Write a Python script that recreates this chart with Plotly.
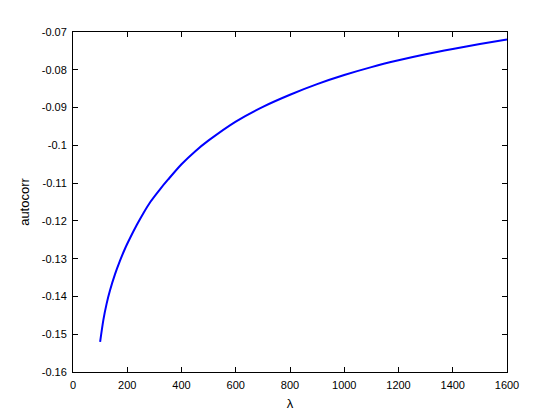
import plotly.graph_objects as go

lam = [100, 112, 124, 136, 155, 173, 192, 210, 235, 260, 285, 320, 350,
       400, 450, 500, 600, 700, 800, 900, 1000, 1100, 1200, 1300, 1400,
       1500, 1600]
autocorr = [-0.1520, -0.1462, -0.1419, -0.1385, -0.1341, -0.1306, -0.1273,
            -0.1246, -0.1211, -0.1179, -0.1150, -0.1117, -0.1091, -0.1050,
            -0.1016, -0.0987, -0.0937, -0.0898, -0.0866, -0.0838, -0.0814,
            -0.0793, -0.0775, -0.0759, -0.0745, -0.0732, -0.0720]
xticks = [0, 200, 400, 600, 800, 1000, 1200, 1400, 1600]
yticks = [-0.16, -0.15, -0.14, -0.13, -0.12, -0.11, -0.1, -0.09, -0.08, -0.07]
ytext = ["-0.16", "-0.15", "-0.14", "-0.13", "-0.12", "-0.11", "-0.1",
         "-0.09", "-0.08", "-0.07"]

fig = go.Figure(go.Scatter(x=lam, y=autocorr, mode="lines",
                           line=dict(color="#0000ff", width=2, shape="spline",
                                     smoothing=0.8)))

axis_common = dict(showline=True, linecolor="black", linewidth=1, mirror="ticks",
                   ticks="inside", ticklen=5, tickcolor="black", showgrid=False,
                   zeroline=False, ticklabelstandoff=3,
                   tickfont=dict(family="Liberation Sans, Arial", size=11, color="black"))

fig.update_layout(
    width=552, height=412,
    margin=dict(l=65, r=53, t=24, b=46),
    paper_bgcolor="white", plot_bgcolor="white",
    showlegend=False,
    font=dict(family="Liberation Sans, Arial", size=11, color="black"),
    xaxis=dict(range=[0, 1600], tickvals=xticks,
               title=dict(text="λ", standoff=8), **axis_common),
    yaxis=dict(range=[-0.16, -0.07], tickvals=yticks, ticktext=ytext,
               title=dict(text="autocorr", standoff=9), **axis_common),
)
fig.write_html("out.html")
